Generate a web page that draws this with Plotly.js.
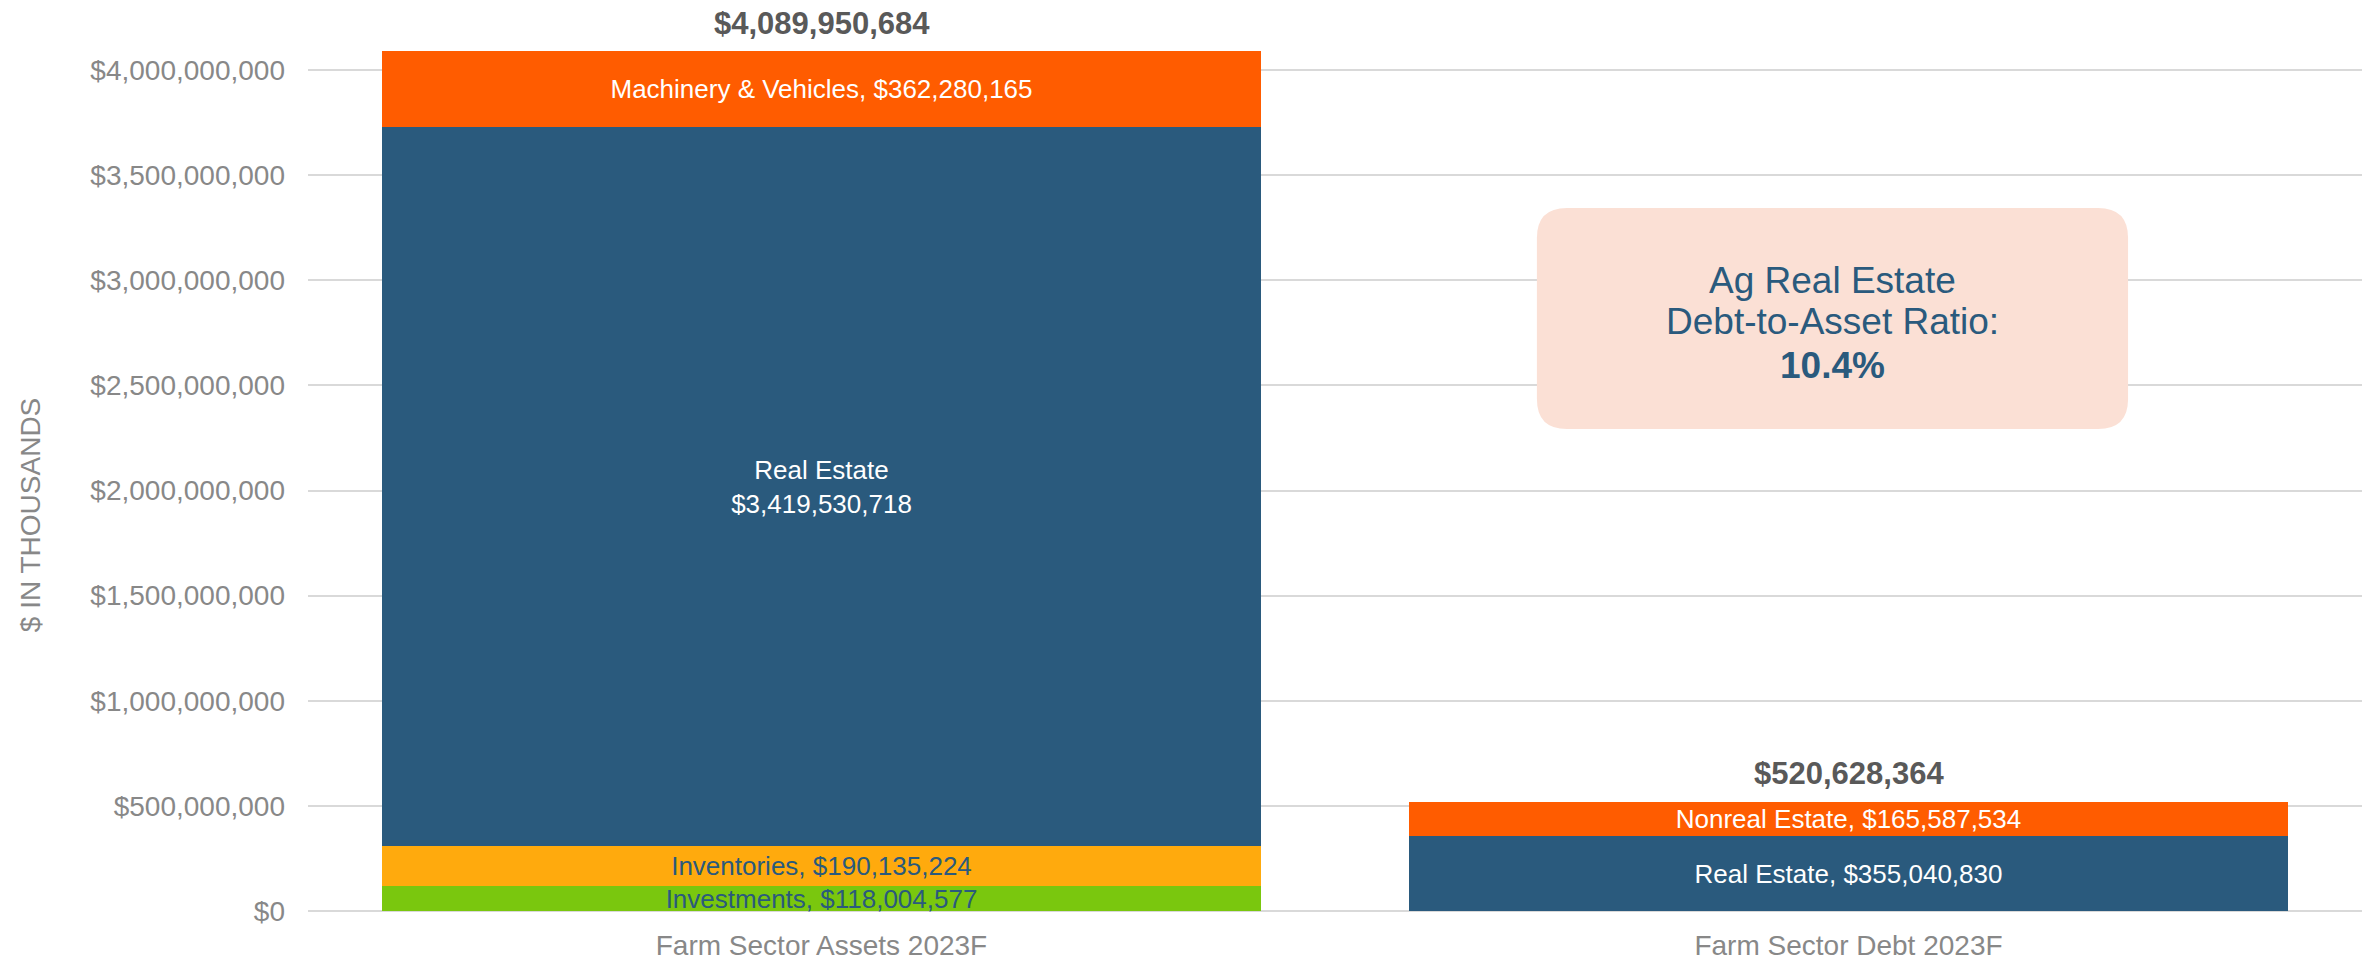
<!DOCTYPE html>
<html>
<head>
<meta charset="utf-8">
<script src="https://cdn.plot.ly/plotly-3.0.1.min.js"></script>
<style>html,body{margin:0;padding:0;background:#fff;}#chart{width:2369px;height:965px;}</style>
</head>
<body>
<div id="chart"></div>
<script>
const categories = ["Farm Sector Assets 2023F", "Farm Sector Debt 2023F"];
const assetNames = ["Investments", "Inventories", "Real Estate", "Machinery & Vehicles"];
const assetValues = [118004577, 190135224, 3419530718, 362280165];
const assetColors = ["#7AC70E", "#FFAA0D", "#2A5A7D", "#FF5C00"];
const assetTextColors = ["#2A5A7D", "#2A5A7D", "#FFFFFF", "#FFFFFF"];
const debtNames = ["Real Estate", "Nonreal Estate"];
const debtValues = [355040830, 165587534];
const debtColors = ["#2A5A7D", "#FF5C00"];
const debtTextColors = ["#FFFFFF", "#FFFFFF"];
const totals = [4089950684, 520628364];
const ratioLines = ["Ag Real Estate", "Debt-to-Asset Ratio:", "<b>10.4%</b>"];
const yAxisTitle = "$ IN THOUSANDS";

const FONT = "Arial, 'Liberation Sans', sans-serif";
const GRAY = "#888888";
const fmt = v => "$" + v.toLocaleString("en-US");

const traces = [];
assetNames.forEach((n, i) => {
  const label = n === "Real Estate" ? n + "<br>" + fmt(assetValues[i]) : n + ", " + fmt(assetValues[i]);
  traces.push({
    type: "bar", name: n, x: [categories[0]], y: [assetValues[i]],
    marker: {color: assetColors[i], line: {width: 0}},
    text: [label], textposition: "inside", insidetextanchor: "middle",
    constraintext: "none", cliponaxis: false,
    textfont: {family: FONT, size: 26, color: assetTextColors[i]},
    hoverinfo: "skip"
  });
});
debtNames.forEach((n, i) => {
  traces.push({
    type: "bar", name: n, x: [categories[1]], y: [debtValues[i]],
    marker: {color: debtColors[i], line: {width: 0}},
    text: [n + ", " + fmt(debtValues[i])], textposition: "inside", insidetextanchor: "middle",
    constraintext: "none", cliponaxis: false,
    textfont: {family: FONT, size: 26, color: debtTextColors[i]},
    hoverinfo: "skip"
  });
});

const annotations = categories.map((c, i) => ({
  x: c, y: totals[i], xref: "x", yref: "y", text: "<b>" + fmt(totals[i]) + "</b>",
  showarrow: false, yanchor: "middle", yshift: 28,
  font: {family: FONT, size: 31, color: "#595959"}
}));
const lineY = [0.698, 0.6516, 0.603];
ratioLines.forEach((t, i) => annotations.push({
  x: 0.7422, y: lineY[i], xref: "paper", yref: "paper", text: t, showarrow: false,
  xanchor: "center", yanchor: "middle",
  font: {family: FONT, size: 37, color: "#2A5A7D"}
}));
annotations.push({
  x: -0.1353, y: 0.438, xref: "paper", yref: "paper", text: yAxisTitle, showarrow: false,
  textangle: -90, xanchor: "center", yanchor: "middle",
  font: {family: FONT, size: 28, color: GRAY}
});

const x0 = 0.5983, x1 = 0.8861, y0 = 0.5332, y1 = 0.7777, rx = 0.0146, ry = 0.0332;
const boxPath = `M ${x0 + rx} ${y1} L ${x1 - rx} ${y1} Q ${x1} ${y1} ${x1} ${y1 - ry} L ${x1} ${y0 + ry} Q ${x1} ${y0} ${x1 - rx} ${y0} L ${x0 + rx} ${y0} Q ${x0} ${y0} ${x0} ${y0 + ry} L ${x0} ${y1 - ry} Q ${x0} ${y1} ${x0 + rx} ${y1} Z`;

const layout = {
  width: 2369, height: 965,
  margin: {l: 308, r: 7, t: 7, b: 54},
  paper_bgcolor: "#FFFFFF", plot_bgcolor: "#FFFFFF",
  barmode: "stack", bargap: 0.144, showlegend: false,
  font: {family: FONT},
  xaxis: {
    type: "category", showgrid: false, showline: false, ticks: "", zeroline: false,
    tickfont: {family: FONT, size: 28, color: GRAY}, ticklabelstandoff: 15
  },
  yaxis: {
    range: [0, 4.3e9], dtick: 5e8, tick0: 0, tickprefix: "$", tickformat: ",d",
    showgrid: true, gridcolor: "#D9D9D9", gridwidth: 2,
    zeroline: true, zerolinecolor: "#D9D9D9", zerolinewidth: 2,
    showline: false, ticks: "", ticklabelstandoff: 22,
    tickfont: {family: FONT, size: 28, color: GRAY}
  },
  shapes: [{type: "path", xref: "paper", yref: "paper", path: boxPath,
    fillcolor: "#FBE0D5", line: {width: 0}, layer: "above"}],
  annotations: annotations
};

Plotly.newPlot("chart", traces, layout, {staticPlot: true, displayModeBar: false});
</script>
</body>
</html>
